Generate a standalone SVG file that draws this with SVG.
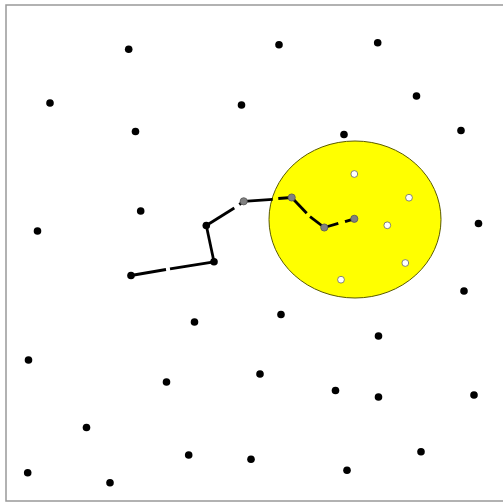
<svg xmlns="http://www.w3.org/2000/svg" width="503" height="503" viewBox="0 0 503 503">
<style>
.b{fill:#000}
.g{fill:#808080;stroke:#555;stroke-width:0.8}
.w{fill:#fff;stroke:#666;stroke-width:0.8}
.e{stroke:#000;stroke-width:2.8;fill:none;stroke-linecap:butt}
</style>
<rect x="0" y="0" width="503" height="503" fill="#fff"/>
<rect x="6" y="5" width="500" height="496" fill="none" stroke="#999" stroke-width="1.5"/>
<g id="region"><ellipse cx="355" cy="219.5" rx="86" ry="78.5" fill="#ffff00" stroke="#5a5a00" stroke-width="1"/></g>
<g id="connectors">
<line class="e" x1="131" y1="275.5" x2="166" y2="269.5"/>
<line class="e" x1="170" y1="268.8" x2="214" y2="261.8"/>
<line class="e" x1="214" y1="261.8" x2="206.3" y2="225.5"/>
<line class="e" x1="206.3" y1="225.5" x2="234.3" y2="208"/>
<line class="e" x1="239.3" y1="204.5" x2="243.7" y2="201.3"/>
<line class="e" x1="243.7" y1="201.3" x2="272.7" y2="199.3"/>
<line class="e" x1="278.3" y1="198.5" x2="291.7" y2="197.5"/>
<line class="e" x1="291.7" y1="197.5" x2="306.7" y2="213.3"/>
<line class="e" x1="310" y1="216.7" x2="324.3" y2="227.5"/>
<line class="e" x1="324.3" y1="227.5" x2="338.3" y2="223.3"/>
<line class="e" x1="345" y1="221.7" x2="354.3" y2="218.8"/>
</g>
<g id="chain">
<circle id="c1" class="b" cx="131" cy="275.5" r="3.8"/>
<circle id="c2" class="b" cx="214" cy="261.8" r="3.8"/>
<circle id="c3" class="b" cx="206.3" cy="225.5" r="3.8"/>
<circle id="c4" class="g" cx="243.7" cy="201.3" r="3.6"/>
<circle id="c5" class="g" cx="291.7" cy="197.5" r="3.6"/>
<circle id="c6" class="g" cx="324.3" cy="227.5" r="3.6"/>
<circle id="c7" class="g" cx="354.3" cy="218.8" r="3.6"/>
</g>
<g id="inside">
<circle id="w1" class="w" cx="354.3" cy="174" r="3.4"/>
<circle id="w2" class="w" cx="409" cy="197.7" r="3.4"/>
<circle id="w3" class="w" cx="387.3" cy="225.3" r="3.4"/>
<circle id="w4" class="w" cx="405.3" cy="263" r="3.4"/>
<circle id="w5" class="w" cx="341" cy="279.7" r="3.4"/>
</g>
<g id="points">
<circle id="p1" class="b" cx="128.7" cy="49.3" r="3.8"/>
<circle id="p2" class="b" cx="279" cy="44.7" r="3.8"/>
<circle id="p3" class="b" cx="377.7" cy="42.7" r="3.8"/>
<circle id="p4" class="b" cx="50" cy="103" r="3.8"/>
<circle id="p5" class="b" cx="241.5" cy="105" r="3.8"/>
<circle id="p6" class="b" cx="416.5" cy="96" r="3.8"/>
<circle id="p7" class="b" cx="135.5" cy="131.5" r="3.8"/>
<circle id="p8" class="b" cx="344" cy="134.5" r="3.8"/>
<circle id="p9" class="b" cx="461" cy="130.5" r="3.8"/>
<circle id="p10" class="b" cx="140.7" cy="211" r="3.8"/>
<circle id="p11" class="b" cx="37.5" cy="231" r="3.8"/>
<circle id="p12" class="b" cx="478.5" cy="223.5" r="3.8"/>
<circle id="p13" class="b" cx="464" cy="291" r="3.8"/>
<circle id="p14" class="b" cx="194.5" cy="322" r="3.8"/>
<circle id="p15" class="b" cx="281" cy="314.5" r="3.8"/>
<circle id="p16" class="b" cx="378.5" cy="336" r="3.8"/>
<circle id="p17" class="b" cx="28.5" cy="360" r="3.8"/>
<circle id="p18" class="b" cx="166.5" cy="382" r="3.8"/>
<circle id="p19" class="b" cx="260" cy="374" r="3.8"/>
<circle id="p20" class="b" cx="335.5" cy="390.5" r="3.8"/>
<circle id="p21" class="b" cx="378.5" cy="397" r="3.8"/>
<circle id="p22" class="b" cx="474" cy="395" r="3.8"/>
<circle id="p23" class="b" cx="86.5" cy="427.5" r="3.8"/>
<circle id="p24" class="b" cx="188.7" cy="455" r="3.8"/>
<circle id="p25" class="b" cx="251" cy="459.3" r="3.8"/>
<circle id="p26" class="b" cx="421" cy="451.7" r="3.8"/>
<circle id="p27" class="b" cx="347" cy="470.3" r="3.8"/>
<circle id="p28" class="b" cx="27.7" cy="472.7" r="3.8"/>
<circle id="p29" class="b" cx="110" cy="482.7" r="3.8"/>
</g>
</svg>
